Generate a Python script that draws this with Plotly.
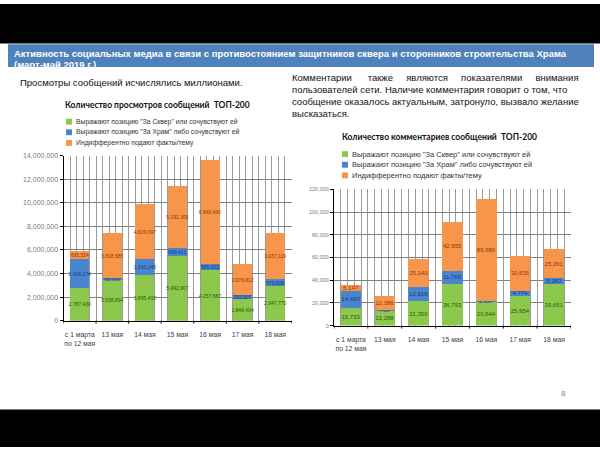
import plotly.graph_objects as go

# ---------------- data ----------------
categories = ["с 1 марта<br>по 12 мая", "13 мая", "14 мая", "15 мая", "16 мая", "17 мая", "18 мая"]
series_names = [
    'Выражают позицию "За Сквер" или сочувствуют ей',
    'Выражают позицию "За Храм" либо сочувствуют ей',
    'Индифферентно подают факты/тему',
]
views_square = [2787430, 3538894, 3895492, 5492907, 4257687, 1848494, 2947770]
views_temple = [2426174, 68909, 1342145, 699412, 565001, 292007, 579506]
views_neutral = [695554, 3818585, 4629097, 5192305, 8840440, 2676812, 3937119]
comments_square = [15733, 13288, 21350, 36753, 20644, 25954, 36651]
comments_temple = [14683, 766, 12618, 11766, 1157, 4774, 5363]
comments_neutral = [5147, 12386, 25140, 42955, 89680, 30635, 25261]
views_ticks = [0, 2000000, 4000000, 6000000, 8000000, 10000000, 12000000, 14000000]
comments_ticks = [0, 20000, 40000, 60000, 80000, 100000, 120000]

title_line1 = "Активность социальных медиа в связи с противостоянием защитников сквера и сторонников строительства Храма"
title_line2 = "(март-май 2019 г.)"
left_note = "Просмотры сообщений исчислялись миллионами."
NB = "\u00a0"
right_note_lines = [
    "Комментарии" + NB * 6 + "также" + NB * 5 + "являются" + NB * 5 + "показателями" + NB * 5 + "внимания",
    "пользователей сети. Наличие комментария говорит о том, что",
    "сообщение оказалось актуальным, затронуло, вызвало желание",
    "высказаться.",
]
views_title = "Количество просмотров сообщений  ТОП-200"
comments_title = "Количество комментариев сообщений  ТОП-200"
page_number = "8"

# ---------------- styles ----------------
W, H = 600, 450
colors = ["#8CC84B", "#4A85D0", "#F7954A"]
label_colors = ["#2E5A12", "#1B3A78", "#8A3A0E"]
FONT = "Liberation Sans"
TITLE_FONT = "Lato"


def px(x):
    return x / W


def py(y):
    return 1 - y / H


x_pos = list(range(len(categories)))
boundaries = [k + 0.5 for k in range(-1, len(categories))]

fig = go.Figure()

views = [views_square, views_temple, views_neutral]
comments = [comments_square, comments_temple, comments_neutral]

for i, vals in enumerate(views):
    fig.add_trace(go.Bar(
        x=x_pos, y=vals, name=series_names[i], width=0.58,
        marker=dict(color=colors[i], line=dict(width=0)),
        text=[f"{v:,}" for v in vals], textposition="inside",
        insidetextanchor="middle", textangle=0, constraintext="none",
        textfont=dict(size=5, color=label_colors[i], family=FONT),
        xaxis="x", yaxis="y", showlegend=False,
    ))

for i, vals in enumerate(comments):
    fig.add_trace(go.Bar(
        x=x_pos, y=vals, name=series_names[i], width=0.6,
        marker=dict(color=colors[i], line=dict(width=0)),
        text=[f"{v:,}" for v in vals], textposition="inside",
        insidetextanchor="middle", textangle=0, constraintext="none",
        textfont=dict(size=6, color=label_colors[i], family=FONT),
        xaxis="x2", yaxis="y2", showlegend=False,
    ))

xaxis_common = dict(
    range=[-0.5, len(categories) - 0.5], tickmode="array", tickvals=x_pos,
    ticktext=categories, ticks="", showline=True, linecolor="#000000",
    linewidth=1, showgrid=False, zeroline=False, ticklabelstandoff=7,
    tickfont=dict(size=6.8, color="#404040", family=FONT),
    minor=dict(tickmode="linear", tick0=0.1, dtick=0.2, showgrid=True,
               gridcolor="#9a9a9a", gridwidth=1, ticks=""),
)

fig.update_layout(
    width=W, height=H, margin=dict(l=0, r=0, t=0, b=0),
    paper_bgcolor="white", plot_bgcolor="white", barmode="stack",
    font=dict(family=FONT, color="#111111"),
    xaxis=dict(domain=[px(63.5), px(291.5)], anchor="y", **xaxis_common),
    yaxis=dict(domain=[py(321.7), py(154)], anchor="x", range=[0, 14000000],
               tickmode="array", tickvals=views_ticks, tickformat=",d",
               showline=True, linecolor="#000000", linewidth=1,
               ticks="outside", ticklen=3, tickcolor="#000000",
               showgrid=True, gridcolor="#808080", gridwidth=1, zeroline=False,
               tickfont=dict(size=7, color="#7a7a7a", family=FONT)),
    xaxis2=dict(domain=[px(334), px(571)], anchor="y2", **xaxis_common),
    yaxis2=dict(domain=[py(326.7), py(188.3)], anchor="x2", range=[0, 120000],
                tickmode="array", tickvals=comments_ticks, tickformat=",d",
                showline=True, linecolor="#000000", linewidth=1,
                ticks="outside", ticklen=3, tickcolor="#000000",
                showgrid=True, gridcolor="#808080", gridwidth=1, zeroline=False,
                tickfont=dict(size=5.5, color="#7a7a7a", family=FONT)),
)

shapes = [
    dict(type="rect", xref="paper", yref="paper", x0=0, x1=1, y0=py(40), y1=1,
         fillcolor="#000000", line=dict(width=0), layer="above"),
    dict(type="rect", xref="paper", yref="paper", x0=0, x1=1, y0=0, y1=py(412),
         fillcolor="#000000", line=dict(width=0), layer="above"),
    dict(type="rect", xref="paper", yref="paper", x0=px(8), x1=px(594),
         y0=py(64), y1=py(41), fillcolor="#4F81BD", line=dict(width=0), layer="below"),
]

# category boundary tick marks on the x axes
for xref, ybase in [("x", 321.7), ("x2", 326.7)]:
    for b in boundaries:
        shapes.append(dict(type="line", xref=xref, yref="paper", x0=b, x1=b,
                           y0=py(ybase), y1=py(ybase + 3),
                           line=dict(color="#000000", width=1)))

annotations = [
    dict(text=title_line1, x=px(12), y=py(50.5), xanchor="left", yanchor="middle",
         font=dict(size=9.5, color="white", family=FONT, weight="bold")),
    dict(text=title_line2, x=px(12), y=py(61.5), xanchor="left", yanchor="middle",
         font=dict(size=9.5, color="white", family=FONT, weight="bold")),
    dict(text=left_note, x=px(18), y=py(80), xanchor="left", yanchor="middle",
         font=dict(size=9.5, color="#111111", family=FONT)),
    dict(text=views_title, x=px(158), y=py(103), xanchor="center", yanchor="middle",
         font=dict(size=8.5, color="#111111", family=TITLE_FONT, weight="bold")),
    dict(text=comments_title, x=px(440), y=py(135), xanchor="center", yanchor="middle",
         font=dict(size=8.5, color="#111111", family=TITLE_FONT, weight="bold")),
    dict(text=page_number, x=px(563), y=py(396), xanchor="center", yanchor="middle",
         font=dict(size=8, color="#888888", family=FONT)),
]
for k, line in enumerate(right_note_lines):
    annotations.append(dict(text=line, x=px(290), y=py(75 + 12 * k), xanchor="left",
                            yanchor="middle",
                            font=dict(size=9.5, color="#111111", family=FONT)))

# manual legends
for lx, ly0, fsize in [(66, 119.5, 6.8), (342, 152.5, 7.5)]:
    for i, name in enumerate(series_names):
        yy = ly0 + 10.8 * i
        shapes.append(dict(type="rect", xref="paper", yref="paper",
                           x0=px(lx), x1=px(lx + 6), y0=py(yy + 3), y1=py(yy - 3),
                           fillcolor=colors[i], line=dict(width=0)))
        annotations.append(dict(text=name, x=px(lx + 8), y=py(yy), xanchor="left",
                                yanchor="middle", showarrow=False,
                                font=dict(size=fsize, color="#333333", family=FONT)))

for a in annotations:
    a.setdefault("showarrow", False)
    a["xref"] = "paper"
    a["yref"] = "paper"

fig.update_layout(shapes=shapes, annotations=annotations)
fig.write_html("out.html", config={"displayModeBar": False},
               post_script="document.body.style.margin='0';document.body.style.overflow='hidden';")
